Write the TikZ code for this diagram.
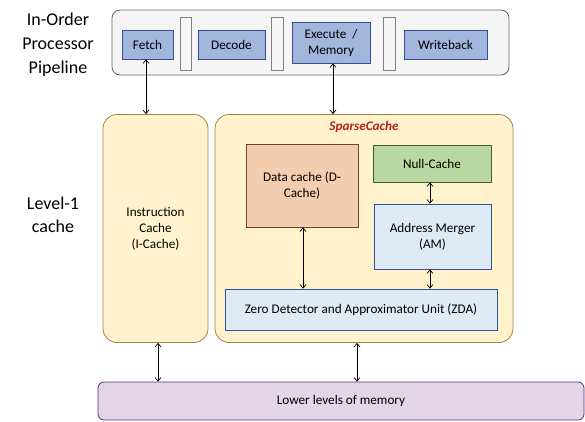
\documentclass[tikz,border=0pt]{standalone}
\usepackage{fontspec}
\setmainfont{Carlito}
\usetikzlibrary{arrows.meta}
\definecolor{stagefill}{HTML}{A2B5DD}
\definecolor{stagedraw}{HTML}{2F4F8F}
\definecolor{pipefill}{HTML}{F5F5F5}
\definecolor{pipedraw}{HTML}{666666}
\definecolor{latchdraw}{HTML}{808080}
\definecolor{yfill}{HTML}{FFF2CC}
\definecolor{ydraw}{HTML}{9C8546}
\definecolor{dfill}{HTML}{F4CDAE}
\definecolor{ddraw}{HTML}{6B4A1E}
\definecolor{gfill}{HTML}{B9D7A1}
\definecolor{gdraw}{HTML}{3E5F28}
\definecolor{bfill}{HTML}{DEEAF6}
\definecolor{bdraw}{HTML}{2F5597}
\definecolor{pfill}{HTML}{E1D5E7}
\definecolor{pdraw}{HTML}{5B2C83}
\definecolor{sred}{HTML}{B22222}
\tikzset{
  box/.style={draw, line width=0.8pt, inner sep=2pt, align=center, font=\fontsize{13.2}{16}\selectfont},
  stagebox/.style={box, fill=stagefill, draw=stagedraw},
  latch/.style={draw=latchdraw, fill=pipefill, line width=1pt},
  barrow/.style={{Straight Barb[length=3.5pt,width=6pt]}-{Straight Barb[length=3.5pt,width=6pt]}, line width=0.7pt},
  biglabel/.style={align=center, font=\fontsize{18}{24}\selectfont},
}
\begin{document}
\begin{tikzpicture}[x=1pt,y=-1pt]
\useasboundingbox (0,0) rectangle (585,421);
% pipeline
\node[biglabel] (pl) at (58,45) {In-Order\\Processor\\Pipeline};
\draw[draw=pipedraw, fill=pipefill, line width=0.8pt, rounded corners=8pt] (112,10) rectangle (509,75);
\node[stagebox, minimum width=51pt, minimum height=29pt] (fetch) at (147.5,44.5) {Fetch};
\draw[latch] (180,17) rectangle (191,70);
\node[stagebox, minimum width=67pt, minimum height=29pt] (decode) at (231.5,44.5) {Decode};
\draw[latch] (271,17) rectangle (283,70);
\node[stagebox, minimum width=78pt, minimum height=41pt] (exec) at (331,42.5) {Execute \ /\\Memory};
\draw[latch] (383,17) rectangle (395,70);
\node[stagebox, minimum width=83pt, minimum height=29pt] (wb) at (445.5,44.5) {Writeback};
% level-1
\node[biglabel, font=\fontsize{18}{23}\selectfont] (l1) at (53,215) {Level-1\\cache};
\node[box, fill=yfill, draw=ydraw, rounded corners=14pt, minimum width=105pt, minimum height=228pt] (icache) at (155.5,228.5) {Instruction\\Cache\\(I-Cache)};
\node[box, fill=yfill, draw=ydraw, rounded corners=14pt, minimum width=298pt, minimum height=228pt] (sc) at (364,228.5) {};
\node[font=\fontsize{13.2}{16}\selectfont\bfseries\itshape, text=sred] (sct) at (364,127) {SparseCache};
\node[box, fill=dfill, draw=ddraw, minimum width=112pt, minimum height=83pt] (dc) at (302,185.5) {Data cache (D-\\Cache)};
\node[box, fill=gfill, draw=gdraw, minimum width=118pt, minimum height=37pt] (nc) at (432,163.5) {Null-Cache};
\node[box, fill=bfill, draw=bdraw, minimum width=117pt, minimum height=65pt] (am) at (432.5,236.5) {Address Merger\\(AM)};
\node[box, fill=bfill, draw=bdraw, minimum width=272pt, minimum height=41pt] (zda) at (361,309.5) {Zero Detector and Approximator Unit (ZDA)};
\node[box, fill=pfill, draw=pdraw, rounded corners=6pt, minimum width=486pt, minimum height=38pt] (low) at (341,401) {Lower levels of memory};
% arrows
\draw[barrow] (fetch.south -| 146,0) -- (icache.north -| 146,0);
\draw[barrow] (exec.south -| 333,0) -- (sc.north -| 333,0);
\draw[barrow] (dc.south -| 303,0) -- (zda.north -| 303,0);
\draw[barrow] (nc.south -| 430,0) -- (am.north -| 430,0);
\draw[barrow] (am.south -| 430,0) -- (zda.north -| 430,0);
\draw[barrow] (icache.south -| 158,0) -- (low.north -| 158,0);
\draw[barrow] (sc.south -| 357,0) -- (low.north -| 357,0);
\end{tikzpicture}
\end{document}
